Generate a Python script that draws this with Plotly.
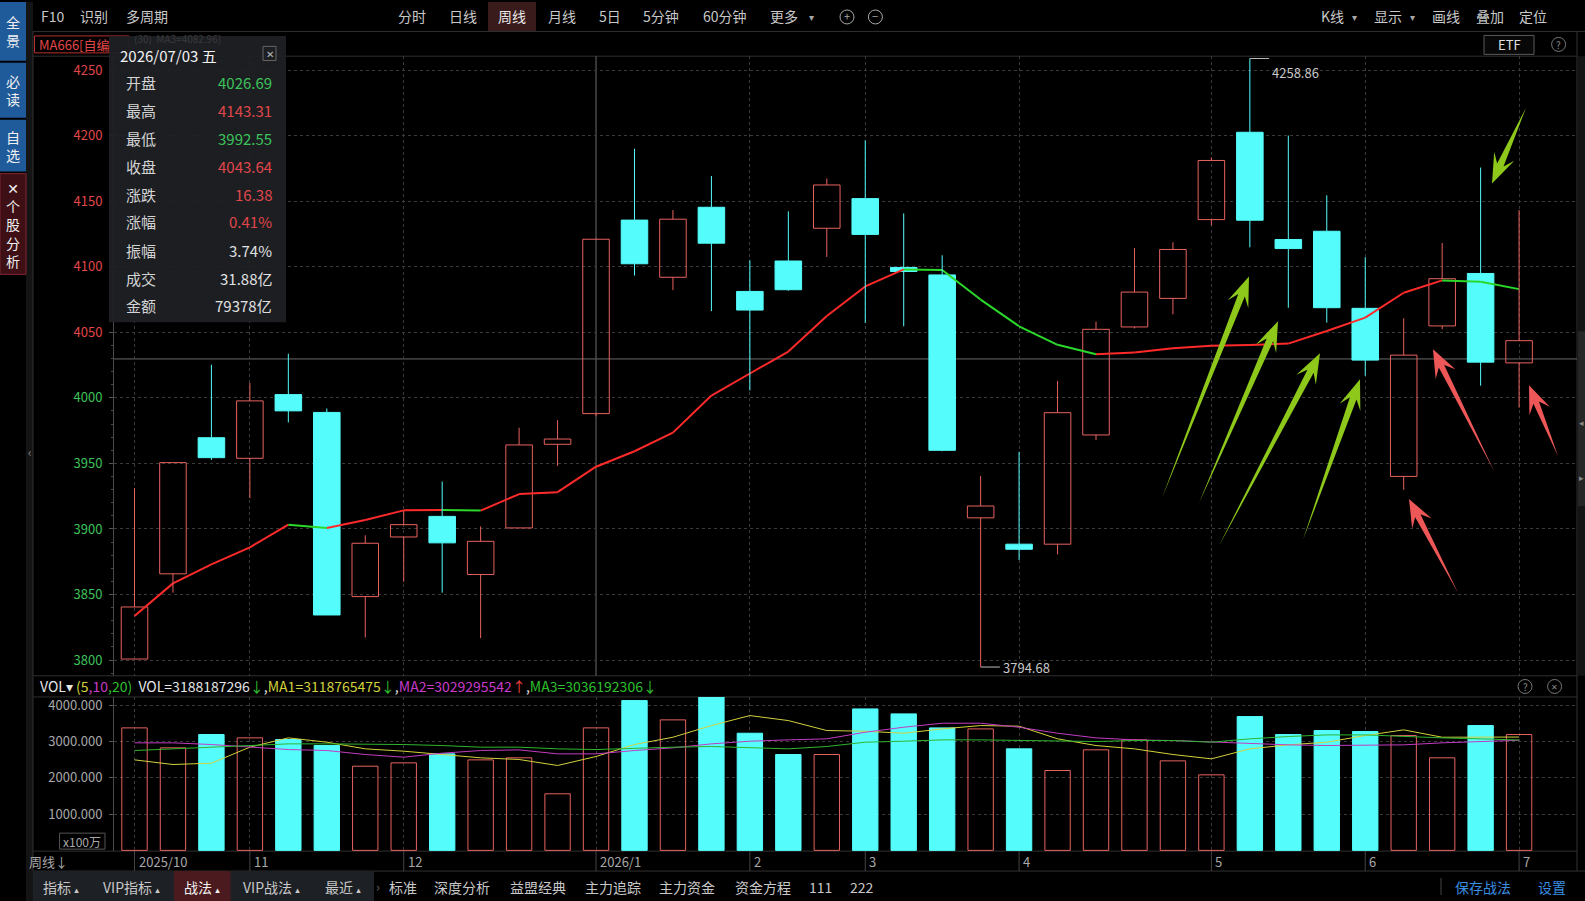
import math
import plotly.graph_objects as go

W, H = 1585, 901
FONT = "Noto Sans CJK SC, Noto Sans, DejaVu Sans, sans-serif"

# ------------------------------------------------------------------ data
month_idx = [0, 3, 7, 12, 16, 19, 23, 28, 32, 36]
month_labels = ["2025/10", "11", "12", "2026/1", "2", "3", "4", "5", "6", "7"]
year_idx = 12

opens = [3800.8, 3865.8, 3969.6, 3953.9, 4002.5, 3988.9, 3848.4, 3893.9, 3909.6, 3865.3,
         3900.8, 3964.6, 3988.0, 4135.6, 4092.0, 4145.4, 4081.2, 4104.4, 4129.4, 4152.0,
         4099.5, 4093.8, 3908.5, 3888.4, 3888.4, 3971.7, 4054.1, 4075.9, 4136.0, 4202.6,
         4120.8, 4127.1, 4068.3, 3940.1, 4054.9, 4094.9, 4026.69]
highs = [3931.1, 3950.6, 4025.3, 4011.4, 4033.7, 3991.9, 3895.2, 3913.9, 3936.2, 3902.0,
         3977.2, 3983.0, 4121.5, 4190.0, 4143.3, 4169.3, 4104.9, 4142.3, 4167.3, 4196.4,
         4140.7, 4108.8, 3940.5, 3958.8, 4012.9, 4058.2, 4114.4, 4118.7, 4183.4, 4258.86,
         4200.1, 4154.5, 4107.3, 4060.7, 4118.2, 4175.7, 4143.31]
lows = [3800.8, 3851.4, 3952.7, 3923.5, 3981.3, 3834.4, 3817.2, 3859.7, 3851.4, 3816.7,
        3900.8, 3948.1, 3986.0, 4093.3, 4082.2, 4066.2, 4005.7, 4081.7, 4107.5, 4057.2,
        4054.6, 3959.3, 3794.68, 3876.3, 3880.7, 3967.9, 4053.0, 4063.7, 4131.7, 4114.9,
        4068.8, 4057.4, 4016.9, 3929.9, 4052.3, 4009.3, 3992.55]
closes = [3840.5, 3950.6, 3954.4, 3997.7, 3990.1, 3834.4, 3889.1, 3903.3, 3889.4, 3890.6,
          3964.1, 3968.6, 4121.0, 4102.3, 4136.3, 4118.0, 4067.0, 4082.5, 4162.4, 4124.7,
          4096.4, 3960.0, 3917.5, 3884.5, 3988.7, 4052.3, 4080.7, 4113.2, 4181.1, 4135.5,
          4113.9, 4068.8, 4028.8, 4032.6, 4090.9, 4027.26, 4043.64]
ma_line = [3833.7, 3858.5, 3873.0, 3886.0, 3903.3, 3900.8, 3906.8, 3914.2, 3914.4, 3914.0,
           3926.6, 3928.1, 3947.5, 3959.3, 3973.5, 4001.8, 4018.6, 4035.3, 4062.4, 4085.0,
           4098.0, 4097.5, 4075.0, 4054.6, 4040.5, 4033.3, 4034.6, 4037.9, 4039.7, 4040.4,
           4041.4, 4051.0, 4061.2, 4080.2, 4089.6, 4088.6, 4082.96]

# volume in units of 100万 (1e6)
volumes = [3371, 2822, 3188, 3096, 3050, 2885, 2317, 2409, 2656, 2491,
           2547, 1557, 3371, 4122, 3591, 4240, 3224, 2638, 2638, 3893,
           3756, 3371, 3343, 2794, 2198, 2767, 3041, 2464, 2079, 3682,
           3188, 3298, 3270, 3160, 2547, 3435, 3188.187]
vol_ma5 = [2491, 2363, 2400, 2840, 3096, 2977, 2794, 2730, 2638, 2547,
           2501, 2336, 2583, 2913, 3114, 3435, 3710, 3572, 3298, 3279,
           3224, 3343, 3435, 3417, 3069, 2885, 2794, 2638, 2519, 2794,
           2904, 2977, 3160, 3316, 3114, 3114, 3118.77]
vol_ma10 = [2959, 2959, 2913, 2840, 2775, 2748, 2638, 2565, 2675, 2748,
            2766, 2656, 2656, 2748, 2821, 2931, 3004, 3041, 3069, 3251,
            3389, 3499, 3499, 3389, 3224, 3096, 3041, 3023, 2977, 2950,
            2904, 2886, 2886, 2904, 2959, 2996, 3029.30]
vol_ma20 = [2748, 2794, 2840, 2885, 2931, 2931, 2931, 2913, 2885, 2840,
            2840, 2794, 2775, 2812, 2840, 2858, 2821, 2794, 2858, 2977,
            3004, 3041, 3041, 3023, 3004, 2996, 3023, 3023, 2977, 3069,
            3133, 3178, 3178, 3133, 3096, 3069, 3036.19]

vol_header_values = ["3188187296", "3118765475", "3029295542", "3036192306"]
vol_header_arrows = ["↓", "↓", "↑", "↓"]
info_date = "2026/07/03 五"
info_amount = "79378亿"
ma_label_value = "4082.96"
crosshair_price = 4029.7

# ------------------------------------------------------------------ colours
BG = "#000000"
CYAN = "#55FCFC"
SALMON = "#E8625F"
MA_RED = "#FF2A2A"
MA_GREEN = "#2BD92B"
GRID = "#3a3a3a"
AX_RED = "#E0474A"
AX_GREEN = "#3DC25A"
TXT = "#C8C8C8"
GRAY = "#A8A8A8"

n = len(closes)
idx = list(range(n))
up = [closes[i] >= opens[i] for i in idx]


def px(x):
    return x / W


def py(y):
    return 1 - y / H


fig = go.Figure()

# ---- price MA line, red when rising, green when falling
seg = {True: ([], []), False: ([], [])}
for i in range(1, n):
    rising = ma_line[i] >= ma_line[i - 1]
    seg[rising][0].extend([i - 1, i, None])
    seg[rising][1].extend([ma_line[i - 1], ma_line[i], None])
for rising, col in ((True, MA_RED), (False, MA_GREEN)):
    fig.add_trace(go.Scatter(x=seg[rising][0], y=seg[rising][1], mode="lines",
                             line=dict(color=col, width=2), hoverinfo="skip",
                             xaxis="x", yaxis="y"))

# ---- wicks
wk = {True: ([], []), False: ([], [])}
for i in idx:
    top, bot = max(opens[i], closes[i]), min(opens[i], closes[i])
    wk[up[i]][0].extend([i, i, None, i, i, None])
    wk[up[i]][1].extend([highs[i], top, None, bot, lows[i], None])
for u, col in ((True, SALMON), (False, CYAN)):
    fig.add_trace(go.Scatter(x=wk[u][0], y=wk[u][1], mode="lines",
                             line=dict(color=col, width=1), hoverinfo="skip",
                             xaxis="x", yaxis="y"))

# ---- bodies
fig.add_trace(go.Bar(
    x=idx,
    y=[max(abs(closes[i] - opens[i]), 0.6) for i in idx],
    base=[min(opens[i], closes[i]) for i in idx],
    width=0.69,
    marker=dict(color=["rgba(0,0,0,0)" if u else CYAN for u in up],
                line=dict(color=[SALMON if u else CYAN for u in up], width=1)),
    xaxis="x", yaxis="y", hoverinfo="skip"))

# ---- volume bars
fig.add_trace(go.Bar(
    x=idx, y=volumes, width=0.66,
    marker=dict(color=["rgba(0,0,0,0)" if u else CYAN for u in up],
                line=dict(color=[SALMON if u else CYAN for u in up], width=1)),
    xaxis="x2", yaxis="y2", hoverinfo="skip"))
for arr, col in ((vol_ma5, "#D2D23C"), (vol_ma10, "#C23CC2"), (vol_ma20, "#2FB52F")):
    fig.add_trace(go.Scatter(x=idx, y=arr, mode="lines", line=dict(color=col, width=1),
                             xaxis="x2", yaxis="y2", hoverinfo="skip"))

# ------------------------------------------------------------------ axes
X0, X1 = 114, 1577
P_TOP, P_BOT = 54.3, 675.3
V_TOP, V_BOT = 696.5, 851
xr = [-0.533, 37.506]
price_range = [3788.0, 4260.65]
vol_range = [-20, 4222]
split = closes[-1]
ptick = list(range(3800, 4251, 50))
ptext = [f"<span style='color:{AX_RED if v > split else AX_GREEN}'>{v}</span>" for v in ptick]

xcommon = dict(domain=[px(X0), px(X1)], range=xr, tickmode="array", tickvals=month_idx,
               showticklabels=False, ticks="", showgrid=True, gridcolor=GRID,
               griddash="dot", gridwidth=1, zeroline=False, showline=False, fixedrange=True)

fig.update_layout(
    width=W, height=H, autosize=False,
    margin=dict(l=0, r=0, t=0, b=0, pad=0),
    paper_bgcolor=BG, plot_bgcolor=BG,
    showlegend=False, barmode="overlay", hovermode=False,
    font=dict(family=FONT, color=TXT),
    xaxis=dict(anchor="y", **xcommon),
    xaxis2=dict(anchor="y2", matches="x", **xcommon),
    yaxis=dict(domain=[py(P_BOT), py(P_TOP)], range=price_range, side="left",
               tickmode="array", tickvals=ptick, ticktext=ptext,
               tickfont=dict(size=13, color=AX_RED, family=FONT),
               ticks="outside", ticklen=4, tickcolor="#555", ticklabelstandoff=4,
               minor=dict(ticks="outside", ticklen=2, tickcolor="#4a4a4a",
                          tickmode="linear", tick0=3800, dtick=10, showgrid=False),
               showgrid=True, gridcolor=GRID, griddash="dot", zeroline=False,
               showline=True, linecolor="#4a4a4a", linewidth=1, fixedrange=True),
    yaxis2=dict(domain=[py(V_BOT), py(V_TOP)], range=vol_range, side="left",
                tickmode="array", tickvals=[1000, 2000, 3000, 4000], tickformat=".3f",
                tickfont=dict(size=13, color=GRAY, family=FONT),
                ticks="outside", ticklen=4, tickcolor="#555", ticklabelstandoff=4,
                showgrid=True, gridcolor=GRID, griddash="dot", zeroline=False,
                showline=True, linecolor="#4a4a4a", linewidth=1, fixedrange=True),
)

shapes = []
ann = []


def rect(x0, y0, x1, y1, fill="rgba(0,0,0,0)", line=None, lw=1, layer="below"):
    shapes.append(dict(type="rect", xref="paper", yref="paper", x0=px(x0), x1=px(x1),
                       y0=py(y1), y1=py(y0), fillcolor=fill, layer=layer,
                       line=dict(color=line or "rgba(0,0,0,0)", width=lw if line else 0)))


def hline(x0, x1, y, color="#303030", lw=1, layer="below"):
    shapes.append(dict(type="line", xref="paper", yref="paper", x0=px(x0), x1=px(x1),
                       y0=py(y), y1=py(y), line=dict(color=color, width=lw), layer=layer))


def vline(x, y0, y1, color="#303030", lw=1, layer="below"):
    shapes.append(dict(type="line", xref="paper", yref="paper", x0=px(x), x1=px(x),
                       y0=py(y0), y1=py(y1), line=dict(color=color, width=lw), layer=layer))


def text(x, y, t, size=14, color=TXT, xa="center", ya="middle", **kw):
    ann.append(dict(x=px(x), y=py(y), xref="paper", yref="paper", text=t, showarrow=False,
                    font=dict(size=size, color=color, family=FONT), xanchor=xa, yanchor=ya, **kw))


def circle(cx, cy, r, color="#777"):
    shapes.append(dict(type="circle", xref="paper", yref="paper", x0=px(cx - r), x1=px(cx + r),
                       y0=py(cy + r), y1=py(cy - r), line=dict(color=color, width=1)))


# ---- frame / panes
rect(26, 0, 33, H, fill="#141414")
hline(33, W, 29.5)
hline(33, X1, P_TOP)
hline(33, X1, P_BOT)
hline(33, X1, V_TOP)
hline(33, X1, V_BOT)
hline(33, W, 871)
vline(33, 29.5, 871)
vline(X1, 29.5, 871, color="#333")
rect(1578, P_TOP, W, P_BOT, fill="#141414")
rect(1578, 330, W, 505, fill="#262626")
text(1581.5, 421, "◂", size=9, color="#888")
text(1581.5, 477, "▸", size=9, color="#888")
text(29.5, 450, "‹", size=12, color="#888")

# ---- left sidebar
rect(0, 0, 26, 59, fill="#1F5A9B")
rect(0, 61, 26, 116, fill="#1F5A9B")
rect(0, 118, 26, 170, fill="#1F5A9B")
rect(0, 172, 26, 273, fill="#3E1016", line="#7A2530")
text(13, 29.5, "全<br>景", size=14, color="#F0F0F0")
text(13, 88.5, "必<br>读", size=14, color="#F0F0F0")
text(13, 144, "自<br>选", size=14, color="#F0F0F0")
text(13, 222.5, "✕<br>个<br>股<br>分<br>析", size=14, color="#F0F0F0")

# ---- top toolbar
rect(488, 0, 536, 29, fill="#3A1B1B")
for x, t in ((52.6, "F10"), (94, "识别"), (146.6, "多周期"), (412.4, "分时"), (463, "日线"),
             (511.5, "周线"), (562, "月线"), (609.5, "5日"), (661, "5分钟"), (724.7, "60分钟"),
             (784.4, "更多"), (1332, "K线"), (1388, "显示"), (1445.5, "画线"), (1490, "叠加"),
             (1533, "定位")):
    text(x, 14.5, t, size=14, color="#E8E8E8" if t == "周线" else TXT)
for x in (811.7, 1354.5, 1412):
    text(x, 15, "▾", size=10, color=GRAY)
circle(847, 15, 7, color=GRAY)
circle(875.4, 15, 7, color=GRAY)
text(847, 14.5, "+", size=11, color=GRAY)
text(875.4, 14.5, "−", size=11, color=GRAY)

# ---- second row
rect(34.5, 34, 129, 51, line="#B83232")
text(37, 42.5, "MA666[自编", size=13, color="#E04848", xa="left")
text(133, 37, f"(30)  MA3={ma_label_value}]", size=10, color="#3a3a3a", xa="left",
     borderpad=0)
shapes.append(dict(type="rect", xref="paper", yref="paper", x0=px(1484), x1=px(1534),
                   y0=py(52.5), y1=py(33.5), line=dict(color="#5a5a5a", width=1),
                   fillcolor="#080808"))
text(1509, 43, "ETF", size=13, color="#E0E0E0")
circle(1558.6, 42.5, 7)
text(1558.6, 42.5, "?", size=10, color="#888")

# ---- year divider & horizontal price line
shapes.append(dict(type="line", xref="x", yref="paper", x0=year_idx, x1=year_idx,
                   y0=py(P_BOT), y1=py(P_TOP), line=dict(color="#6a6a6a", width=1), layer="below"))
shapes.append(dict(type="line", xref="paper", yref="y", x0=px(X0), x1=px(X1),
                   y0=crosshair_price, y1=crosshair_price, line=dict(color="#6a6a6a", width=1),
                   layer="below"))

# ---- max / min markers
imax = max(idx, key=lambda i: highs[i])
imin = min(idx, key=lambda i: lows[i])
for i, v, ys in ((imax, highs[imax], -13.5), (imin, lows[imin], 0)):
    shapes.append(dict(type="line", xref="x", yref="y", x0=i, x1=i + 0.5, y0=v, y1=v,
                       line=dict(color="#BBBBBB", width=1)))
    ann.append(dict(x=i + 0.5, y=v, xref="x", yref="y", text=f"{v:.2f}", showarrow=False,
                    xanchor="left", yanchor="middle", yshift=ys, xshift=1,
                    font=dict(size=13, color="#C8C8C8", family=FONT)))

# ---- info box
rect(109, 34, 286, 321, fill="rgba(30,32,37,0.93)", layer="above")
rect(263, 44.5, 276, 58.6, line="#666", layer="above")
text(269.5, 51.5, "✕", size=10, color="#BBB")
text(119, 54, info_date, size=15, color="#F2F2F2", xa="left", borderpad=0)
prev_close = closes[-2]


def pc(v):
    return AX_RED if v > prev_close else (AX_GREEN if v < prev_close else "#E0E0E0")


chg = closes[-1] - prev_close
rows = [
    ("开盘", f"{opens[-1]:.2f}", pc(opens[-1])),
    ("最高", f"{highs[-1]:.2f}", pc(highs[-1])),
    ("最低", f"{lows[-1]:.2f}", pc(lows[-1])),
    ("收盘", f"{closes[-1]:.2f}", pc(closes[-1])),
    ("涨跌", f"{chg:.2f}", AX_RED if chg > 0 else AX_GREEN),
    ("涨幅", f"{chg / prev_close * 100:.2f}%", AX_RED if chg > 0 else AX_GREEN),
    ("振幅", f"{(highs[-1] - lows[-1]) / prev_close * 100:.2f}%", "#E0E0E0"),
    ("成交", f"{volumes[-1] / 100:.2f}亿", "#E0E0E0"),
    ("金额", info_amount, "#E0E0E0"),
]
row_y = [80.9, 109.2, 136.5, 164.8, 193.1, 220.4, 248.7, 277.0, 304.3]
for (lab, val, col), y in zip(rows, row_y):
    text(123.5, y, lab, size=15, color="#D4D4D4", xa="left")
    text(274, y, val, size=15, color=col, xa="right")

# ---- volume header
G, Y, M, R = "#2FC02F", "#D2D23C", "#C83CC8", "#F04040"
arrow_col = {"↓": G, "↑": R}
a = vol_header_arrows
v = vol_header_values
hdr = (f"<span style='color:#E6E6E6'>VOL▾ </span>"
       f"<span style='color:{Y}'>(5</span><span style='color:{M}'>,10</span>"
       f"<span style='color:{G}'>,20)</span>  "
       f"<span style='color:#E6E6E6'>VOL={v[0]}</span><span style='color:{arrow_col[a[0]]}'>{a[0]}</span>"
       f"<span style='color:#E6E6E6'>,</span><span style='color:{Y}'>MA1={v[1]}</span>"
       f"<span style='color:{arrow_col[a[1]]}'>{a[1]}</span><span style='color:#E6E6E6'>,</span>"
       f"<span style='color:{M}'>MA2={v[2]}</span><span style='color:{arrow_col[a[2]]}'>{a[2]}</span>"
       f"<span style='color:#E6E6E6'>,</span><span style='color:{G}'>MA3={v[3]}</span>"
       f"<span style='color:{arrow_col[a[3]]}'>{a[3]}</span>")
text(38, 686, hdr, size=14, xa="left")
circle(1525, 686, 7)
text(1525, 686, "?", size=10, color="#888")
circle(1554.6, 686, 7)
text(1554.6, 686, "✕", size=8, color="#888")
rect(59.6, 833, 105, 849, line="#555")
text(82.3, 841, "x100万", size=12, color=GRAY)

# ---- x-axis row
text(48, 861, "周线↓", size=13, color=GRAY)
for i, lab in zip(month_idx, month_labels):
    shapes.append(dict(type="line", xref="x", yref="paper", x0=i, x1=i,
                       y0=py(871), y1=py(851), line=dict(color="#444", width=1)))
    ann.append(dict(x=i, y=py(861), xref="x", yref="paper", text=lab, showarrow=False,
                    xanchor="left", yanchor="middle", xshift=2,
                    font=dict(size=13, color=GRAY, family=FONT)))

# ---- bottom toolbar
rect(33, 871, 374, H, fill="#1D2024")
rect(174, 871, 230.5, H, fill="#4B1A1E")
for x, t in ((60.6, "指标"), (131, "VIP指标"), (201.7, "战法"), (271.4, "VIP战法"), (342.7, "最近")):
    text(x, 886.5, t + " <span style='font-size:9px'>▴</span>", size=14,
         color="#F0F0F0" if t == "战法" else TXT)
text(378, 886.5, "›", size=13, color="#666")
for x, t in ((403.3, "标准"), (462, "深度分析"), (537.7, "益盟经典"), (612.5, "主力追踪"),
             (687.3, "主力资金"), (763, "资金方程"), (820.8, "111"), (862.2, "222")):
    text(x, 886.5, t, size=14, color=TXT)
vline(1441, 878, 895, color="#444")
text(1483, 886.5, "保存战法", size=14, color="#3A8EE0")
text(1551.6, 886.5, "设置", size=14, color="#3A8EE0")

# ---- hand-drawn arrows (tail -> head, in screen pixels)
green_arrows = [((1162, 497), (1249, 275)), ((1199, 502), (1278, 320)),
                ((1219, 545), (1320, 352)), ((1303, 539), (1360, 378)),
                ((1526, 106), (1492, 182))]
red_arrows = [((1458, 592), (1409, 498)), ((1494, 470), (1433, 348)),
              ((1558, 455), (1529, 384))]


def arrow(t, h, col, head_len=30, head_w=11, neck_w=3.5):
    tx, ty = t
    hx, hy = h
    L = math.hypot(hx - tx, hy - ty)
    ux, uy = (hx - tx) / L, (hy - ty) / L
    nx, ny = -uy, ux
    bx, by = hx - ux * head_len, hy - uy * head_len
    kx, ky = hx - ux * head_len * 0.68, hy - uy * head_len * 0.68
    pts = [(tx, ty), (kx + nx * neck_w, ky + ny * neck_w), (bx + nx * head_w, by + ny * head_w),
           (hx, hy), (bx - nx * head_w, by - ny * head_w), (kx - nx * neck_w, ky - ny * neck_w)]
    path = "M " + " L ".join(f"{px(x):.5f},{py(y):.5f}" for x, y in pts) + " Z"
    shapes.append(dict(type="path", xref="paper", yref="paper", path=path, fillcolor=col,
                       line=dict(width=0), layer="above"))


for t, h in green_arrows:
    arrow(t, h, "#8DC81A")
for t, h in red_arrows:
    arrow(t, h, "#EE5757", head_len=28, head_w=11, neck_w=3)

fig.update_layout(shapes=shapes, annotations=ann)
fig.write_html("out.html", config={"displayModeBar": False, "staticPlot": True})
